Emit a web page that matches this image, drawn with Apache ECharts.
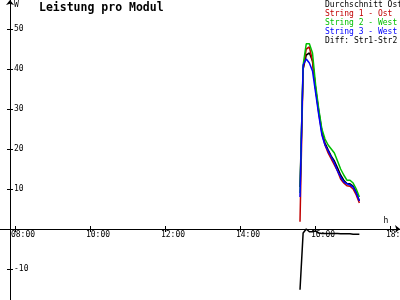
<!DOCTYPE html>
<html>
<head>
<meta charset="utf-8">
<script src="https://cdn.jsdelivr.net/npm/echarts@6/dist/echarts.min.js"></script>
<style>html,body{margin:0;padding:0;background:#fff}#c{width:400px;height:300px}</style>
</head>
<body>
<div id="c"></div>
<script>
// ---- data ----
var times = ['15:36','15:41','15:46','15:51','15:56','16:01','16:06','16:11','16:16','16:21',
             '16:26','16:31','16:36','16:41','16:46','16:51','16:56','17:01','17:06','17:11'];
var avgOst  = [10.5, 40, 43.5, 44, 42, 35, 29.5, 24.5, 21.5, 19.8, 18.2, 17, 15.3, 13.5, 12.2, 11.4, 11.3, 10.7, 9.2, 7];
var string1 = [1.8, 40, 45, 45.5, 42, 35, 29, 24, 21, 19, 17.5, 16, 14.5, 12.5, 11.5, 10.8, 10.7, 10, 8.5, 6.5];
var string2 = [9, 41, 46.3, 46.3, 44, 36, 30, 25, 22.5, 21, 20, 19, 17, 15, 13.5, 12.2, 12.2, 11.5, 10, 8];
var string3 = [8, 41, 42.5, 41.5, 39.5, 34, 28.5, 23.5, 21, 19.5, 18, 16.5, 14.5, 13, 11.8, 11.3, 11, 10.5, 9, 7];
var diff12  = [-15.2, -1, 0, -0.7, -0.7, -0.5, -1, -1.1, -1.1, -1.1, -1.1, -1.1, -1.1, -1.2, -1.2, -1.2, -1.2, -1.3, -1.3, -1.3];
var xTicks = [8, 10, 12, 14, 16, 18];
var yTicks = [-10, 10, 20, 30, 40, 50];
var names = ['Durchschnitt Ost', 'String 1 - Ost', 'String 2 - West', 'String 3 - West', 'Diff: Str1-Str2'];
var colors = ['#000000', '#c00000', '#00c000', '#0000ff', '#000000'];

function toHours(t) { var p = t.split(':'); return +p[0] + (+p[1]) / 60; }
function pair(vals) { return vals.map(function (v, i) { return [toHours(times[i]), v]; }); }
function pad2(n) { return (n < 10 ? '0' : '') + n; }

var FONT = 'DejaVu Sans Mono';
var X_MIN = 7.6, X_MAX = 18.2667, Y_MIN = -17.75, Y_MAX = 57.25;
var W = 400, H = 300;
var Y_AXIS_X = 10, X_AXIS_Y = 229;

var chart = echarts.init(document.getElementById('c'), null, {renderer: 'canvas'});

var seriesVals = [avgOst, string1, string2, string3, diff12];
var series = seriesVals.map(function (vals, k) {
  return {
    name: names[k], type: 'line', data: pair(vals), xAxisIndex: 0, yAxisIndex: 0,
    showSymbol: false, symbol: 'none', animation: false, clip: false,
    lineStyle: {color: colors[k], width: 1.5}, itemStyle: {color: colors[k]}
  };
});

chart.setOption({
  animation: false,
  backgroundColor: '#ffffff',
  title: {
    text: 'Leistung pro Modul', left: 39, top: 2, padding: 0,
    textStyle: {fontFamily: FONT, fontSize: 11.5, fontWeight: 'bold', color: '#000'}
  },
  legend: {
    orient: 'vertical', left: 320, top: 0, padding: 0, selectedMode: false,
    itemWidth: 0, itemHeight: 9, itemGap: 0, icon: 'rect',
    data: names.map(function (n, k) {
      return {name: n, textStyle: {color: colors[k]}};
    }),
    textStyle: {fontFamily: FONT, fontSize: 8, lineHeight: 9}
  },
  grid: {left: 0, right: 0, top: 0, bottom: 0, containLabel: false, outerBoundsMode: 'none'},
  xAxis: [
    {
      type: 'value', min: X_MIN, max: X_MAX, position: 'bottom', offset: X_AXIS_Y - H,
      axisLine: {onZero: false, lineStyle: {color: '#000', width: 1},
                 symbol: ['none', 'arrow'], symbolSize: [6, 5]},
      axisTick: {show: true, length: 3, customValues: xTicks, lineStyle: {color: '#000'}},
      axisLabel: {customValues: xTicks, margin: 2, align: 'center', padding: [0, 0, 0, 16],
                  fontFamily: FONT, fontSize: 8, color: '#000', hideOverlap: false,
                  formatter: function (v) { return pad2(Math.round(v)) + ':00'; }},
      splitLine: {show: false},
      name: 'h', nameLocation: 'end', nameGap: -14,
      nameTextStyle: {fontFamily: FONT, fontSize: 8, color: '#000', align: 'center', verticalAlign: 'bottom', padding: [0, 0, 4, 0]}
    },
    {
      type: 'value', min: X_MIN, max: X_MAX, position: 'top', offset: -X_AXIS_Y,
      axisLine: {show: false, onZero: false},
      axisTick: {show: true, length: 3, customValues: xTicks, lineStyle: {color: '#000'}},
      axisLabel: {show: false}, splitLine: {show: false}
    }
  ],
  yAxis: [
    {
      type: 'value', min: Y_MIN, max: Y_MAX, position: 'left', offset: -Y_AXIS_X,
      axisLine: {show: true, onZero: false, lineStyle: {color: '#000', width: 1},
                 symbol: ['none', 'arrow'], symbolSize: [6, 5]},
      axisTick: {show: true, length: 3, customValues: yTicks, lineStyle: {color: '#000'}},
      axisLabel: {inside: true, customValues: yTicks, margin: 4, fontFamily: FONT, fontSize: 8, color: '#000', hideOverlap: false},
      splitLine: {show: false},
      name: 'W', nameLocation: 'end', nameGap: 0,
      nameTextStyle: {fontFamily: FONT, fontSize: 8, color: '#000', align: 'left', verticalAlign: 'top', padding: [1, 0, 0, 4]}
    },
    {
      type: 'value', min: Y_MIN, max: Y_MAX, position: 'right', offset: Y_AXIS_X - W,
      axisLine: {show: false, onZero: false},
      axisTick: {show: true, length: 3, customValues: yTicks, lineStyle: {color: '#000'}},
      axisLabel: {show: false}, splitLine: {show: false}
    }
  ],
  series: series
});
</script>
</body>
</html>
